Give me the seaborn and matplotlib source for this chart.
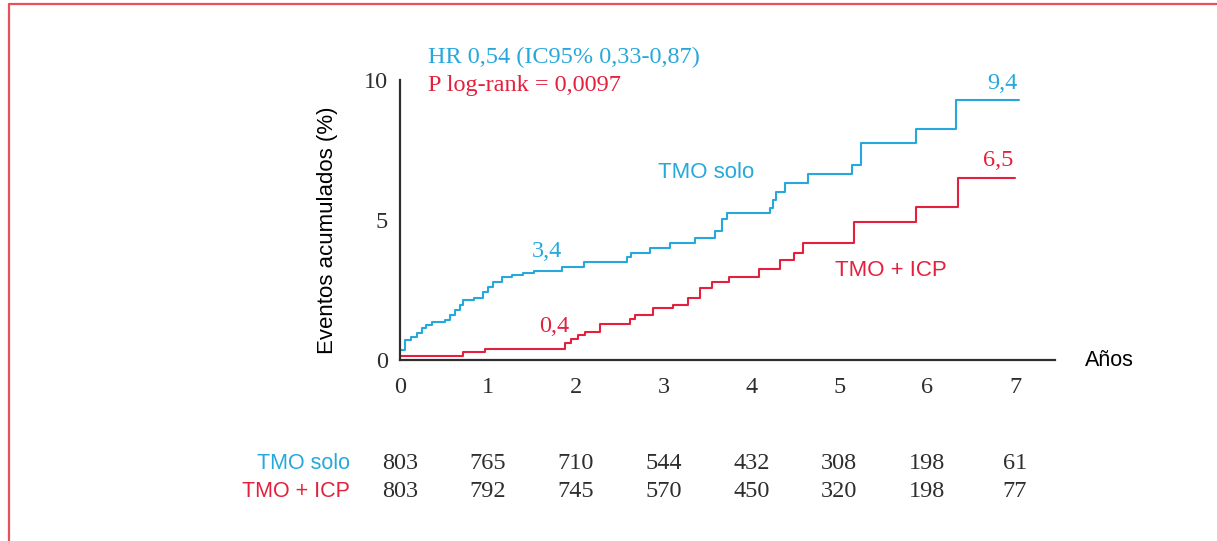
import matplotlib
matplotlib.use("Agg")
import matplotlib.pyplot as plt
import seaborn as sns
import pandas as pd
from matplotlib.lines import Line2D

# ---- data ----
solo_t = [0, 0.06, 0.12, 0.19, 0.25, 0.30, 0.36, 0.51, 0.57, 0.63, 0.68, 0.72, 0.84, 0.95, 1.00, 1.06, 1.16, 1.27, 1.40, 1.52, 1.84, 2.09, 2.58, 2.63, 2.84, 3.07, 3.36, 3.58, 3.66, 3.72, 4.21, 4.25, 4.28, 4.38, 4.64, 5.15, 5.25, 5.87, 6.33, 7.05]
solo_v = [0.36, 0.71, 0.82, 0.95, 1.13, 1.25, 1.37, 1.43, 1.60, 1.79, 1.95, 2.14, 2.22, 2.44, 2.60, 2.80, 2.95, 3.04, 3.10, 3.19, 3.33, 3.51, 3.67, 3.83, 4.01, 4.19, 4.37, 4.62, 5.02, 5.24, 5.42, 5.71, 6.01, 6.33, 6.63, 6.96, 7.74, 8.25, 9.30, 9.30]
icp_t = [0, 0.72, 0.97, 1.88, 1.95, 2.03, 2.10, 2.28, 2.62, 2.67, 2.88, 3.11, 3.28, 3.41, 3.55, 3.75, 4.09, 4.32, 4.49, 4.59, 5.17, 5.87, 6.35, 7.00]
icp_v = [0.16, 0.29, 0.41, 0.60, 0.75, 0.89, 1.00, 1.29, 1.45, 1.61, 1.85, 1.96, 2.20, 2.56, 2.80, 2.98, 3.24, 3.57, 3.83, 4.17, 4.92, 5.48, 6.50, 6.50]

years = [0, 1, 2, 3, 4, 5, 6, 7]
risk_solo = [803, 765, 710, 544, 432, 308, 198, 61]
risk_icp = [803, 792, 745, 570, 450, 320, 198, 77]

series_names = ["TMO solo", "TMO + ICP"]
end_labels = ["9,4", "6,5"]
mid_labels = ["3,4", "0,4"]
hr_text = "HR 0,54 (IC95% 0,33-0,87)"
p_text = "P log-rank = 0,0097"
ylabel = "Eventos acumulados (%)"
xlabel = "Años"

BLUE = "#27a8dc"
RED = "#e4203c"
AX = "#2e2e2e"

sns.set_style("white")
SERIF = ["Liberation Serif", "DejaVu Serif"]
SANS = ["Liberation Sans", "DejaVu Sans"]
plt.rcParams['font.family'] = SANS

SF = 17.5   # serif font size
SS = 16     # sans font size

fig = plt.figure(figsize=(12.17, 5.41), dpi=100)
W, H = 1217, 541
x0, x1 = 400, 1055
y0, y1 = 360, 80
ax = fig.add_axes([x0 / W, (H - y0) / H, (x1 - x0) / W, (y0 - y1) / H])

df_solo = pd.DataFrame({"t": solo_t, "v": solo_v})
df_icp = pd.DataFrame({"t": icp_t, "v": icp_v})
sns.lineplot(data=df_solo, x="t", y="v", ax=ax, color=BLUE, lw=1.5,
             drawstyle="steps-post", sort=False, estimator=None)
sns.lineplot(data=df_icp, x="t", y="v", ax=ax, color=RED, lw=1.5,
             drawstyle="steps-post", sort=False, estimator=None)

ax.set_xlim(0, 7.455)
ax.set_ylim(0, 10)
ax.set_xlabel("")
ax.set_ylabel("")
for s in ["top", "right"]:
    ax.spines[s].set_visible(False)
for s in ["left", "bottom"]:
    ax.spines[s].set_color(AX)
    ax.spines[s].set_linewidth(1.6)
ax.set_xticks(years)
ax.set_yticks([0, 5, 10])
ax.tick_params(axis="x", direction="out", length=9.5, width=1.6, color=AX,
               labelsize=SF, labelcolor=AX, pad=3)
ax.tick_params(axis="y", direction="out", length=7.5, width=1.6, color=AX,
               labelsize=SF, labelcolor=AX, pad=1)
for lab in ax.get_xticklabels() + ax.get_yticklabels():
    lab.set_family(SERIF)

# annotations
ax.text(0.32, 10.79, hr_text, color=BLUE, fontsize=SF, family=SERIF,
        ha="left", va="center", clip_on=False)
ax.text(0.32, 9.79, p_text, color=RED, fontsize=SF, family=SERIF,
        ha="left", va="center", clip_on=False)
ax.text(3.48, 6.68, series_names[0], color=BLUE, fontsize=SS, family=SANS,
        ha="center", va="center")
ax.text(5.59, 3.21, series_names[1], color=RED, fontsize=SS, family=SANS,
        ha="center", va="center")
ax.text(1.67, 3.89, mid_labels[0], color=BLUE, fontsize=SF, family=SERIF,
        ha="center", va="center")
ax.text(1.76, 1.18, mid_labels[1], color=RED, fontsize=SF, family=SERIF,
        ha="center", va="center")
ax.text(6.86, 9.89, end_labels[0], color=BLUE, fontsize=SF, family=SERIF,
        ha="center", va="center", clip_on=False)
ax.text(6.81, 7.14, end_labels[1], color=RED, fontsize=SF, family=SERIF,
        ha="center", va="center")
ax.text(7.8, 0.0, xlabel, color="black", fontsize=15.5, family=SANS,
        ha="left", va="center", clip_on=False)

fig.text(328 / W, 1 - 230 / H, ylabel, rotation=90, fontsize=SS,
         family=SANS, ha="center", va="center", color="black")

# risk table
row_y = [-3.71, -4.68]
for yy, name, col, vals in zip(row_y, series_names, [BLUE, RED],
                               [risk_solo, risk_icp]):
    ax.text(-0.57, yy, name, color=col, fontsize=15.5, family=SANS,
            ha="right", va="center", clip_on=False)
    for xv, n in zip(years, vals):
        ax.text(xv, yy, str(n), color=AX, fontsize=SF, family=SERIF,
                ha="center", va="center", clip_on=False)

# frame (top and left red lines)
fc = "#e8505e"
fig.add_artist(Line2D([9 / W, 1.0], [1 - 4 / H, 1 - 4 / H], color=fc,
                      lw=1.6, transform=fig.transFigure))
fig.add_artist(Line2D([9 / W, 9 / W], [1 - 4 / H, 0], color=fc,
                      lw=1.6, transform=fig.transFigure))

fig.savefig("out.png", dpi=100)
